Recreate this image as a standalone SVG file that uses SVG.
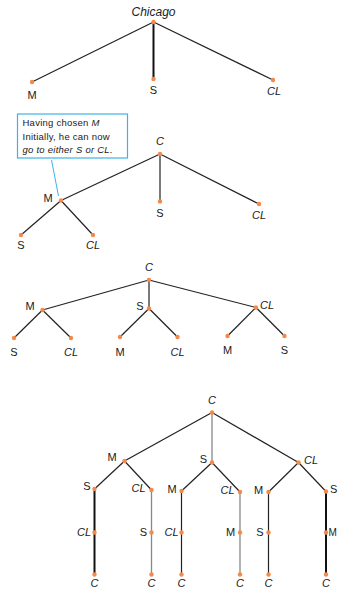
<svg xmlns="http://www.w3.org/2000/svg" width="338" height="591" viewBox="0 0 338 591">
<style>
text{font-family:"Liberation Sans","DejaVu Sans",sans-serif;font-size:11px;fill:#1a1a1a}
.m{text-anchor:middle}
.i{font-style:italic}
.l{stroke:#222;stroke-width:1.2;fill:none}
.t{stroke:#111;stroke-width:2;fill:none}
.g{stroke:#888;stroke-width:1.3;fill:none}
.d{fill:#f5894a}
.co{font-size:9.5px;letter-spacing:0.25px}
</style>
<rect width="338" height="591" fill="#fff"/>
<g id="connectors">
<line class="l" x1="153.5" y1="22" x2="32" y2="82"/>
<line class="t" x1="153.5" y1="22" x2="153.5" y2="79"/>
<line class="l" x1="153.5" y1="22" x2="273" y2="80"/>
<line class="l" x1="160" y1="154" x2="61" y2="200.5"/>
<line class="l" x1="160" y1="154" x2="160" y2="201.5"/>
<line class="l" x1="160" y1="154" x2="259" y2="204"/>
<line class="l" x1="61" y1="200.5" x2="21" y2="235"/>
<line class="l" x1="61" y1="200.5" x2="93" y2="235"/>
<line class="l" x1="149" y1="280" x2="42.5" y2="310"/>
<line class="l" x1="149" y1="280" x2="149" y2="308.5"/>
<line class="l" x1="149" y1="280" x2="256" y2="307.5"/>
<line class="l" x1="42.5" y1="310" x2="14" y2="338"/>
<line class="l" x1="42.5" y1="310" x2="71" y2="338"/>
<line class="l" x1="149" y1="308.5" x2="120" y2="337"/>
<line class="l" x1="149" y1="308.5" x2="177.5" y2="337"/>
<line class="l" x1="256" y1="307.5" x2="227.5" y2="336"/>
<line class="l" x1="256" y1="307.5" x2="284.5" y2="336"/>
<line class="l" x1="212" y1="412.5" x2="124.5" y2="461"/>
<line class="g" x1="212" y1="412.5" x2="212" y2="462.5"/>
<line class="l" x1="212" y1="412.5" x2="298.5" y2="462.5"/>
<line class="l" x1="124.5" y1="461" x2="94.5" y2="489"/>
<line class="l" x1="124.5" y1="461" x2="151.5" y2="490"/>
<line class="l" x1="212" y1="462.5" x2="181.5" y2="491"/>
<line class="l" x1="212" y1="462.5" x2="240" y2="492"/>
<line class="l" x1="298.5" y1="462.5" x2="268.5" y2="492"/>
<line class="l" x1="298.5" y1="462.5" x2="326" y2="491.5"/>
<line class="t" x1="94.5" y1="489" x2="94.5" y2="574.5"/>
<line class="g" x1="151.5" y1="490" x2="151.5" y2="574.5"/>
<line class="l" x1="181.5" y1="491" x2="181.5" y2="574.5"/>
<line class="g" x1="240" y1="492" x2="240" y2="574.5"/>
<line class="l" x1="268.5" y1="492" x2="268.5" y2="574.5"/>
<line class="t" x1="326" y1="491.5" x2="326" y2="574.5"/>
</g>
<g id="callout">
<line x1="51.5" y1="160" x2="58.5" y2="196" stroke="#3ab4e6" stroke-width="1"/>
<rect x="17.5" y="114" width="110" height="44" fill="#fff" stroke="#3ab4e6" stroke-width="1.2"/>
<text class="co" x="22.5" y="126">Having chosen <tspan class="i">M</tspan></text>
<text class="co" x="22.5" y="140">Initially, he can now</text>
<text class="co" x="22.5" y="153"><tspan class="i">go to either S or CL.</tspan></text>
</g>
<g id="tree1">
<g id="t1-root"><circle class="d" cx="153.5" cy="22" r="2.2"/><text class="m i" x="153.5" y="16" style="font-size:12px">Chicago</text></g>
<g id="t1-m"><circle class="d" cx="32" cy="82" r="2.2"/><text class="m" x="32" y="99">M</text></g>
<g id="t1-s"><circle class="d" cx="153.5" cy="79" r="2.2"/><text class="m" x="153.5" y="94">S</text></g>
<g id="t1-cl"><circle class="d" cx="273" cy="80" r="2.2"/><text class="m i" x="274" y="95">CL</text></g>
</g>
<g id="tree2">
<g id="t2-root"><circle class="d" cx="160" cy="154" r="2.2"/><text class="m i" x="160" y="145">C</text></g>
<g id="t2-m"><circle class="d" cx="61" cy="200.5" r="2.2"/><text class="m" x="48" y="202">M</text></g>
<g id="t2-s"><circle class="d" cx="160" cy="201.5" r="2.2"/><text class="m" x="160" y="217">S</text></g>
<g id="t2-cl"><circle class="d" cx="259" cy="204" r="2.2"/><text class="m i" x="259" y="219">CL</text></g>
<g id="t2-ms"><circle class="d" cx="21" cy="235" r="2.2"/><text class="m" x="21" y="249">S</text></g>
<g id="t2-mcl"><circle class="d" cx="93" cy="235" r="2.2"/><text class="m i" x="93" y="249">CL</text></g>
</g>
<g id="tree3">
<g id="t3-root"><circle class="d" cx="149" cy="280" r="2.2"/><text class="m i" x="149" y="271">C</text></g>
<g id="t3-m"><circle class="d" cx="42.5" cy="310" r="2.2"/><text class="m" x="30" y="310">M</text></g>
<g id="t3-s"><circle class="d" cx="149" cy="308.5" r="2.2"/><text class="m" x="140" y="310">S</text></g>
<g id="t3-cl"><circle class="d" cx="256" cy="307.5" r="2.2"/><text class="m i" x="267" y="309">CL</text></g>
<g id="t3-ms"><circle class="d" cx="14" cy="338" r="2.2"/><text class="m" x="14" y="356">S</text></g>
<g id="t3-mcl"><circle class="d" cx="71" cy="338" r="2.2"/><text class="m i" x="71" y="356">CL</text></g>
<g id="t3-sm"><circle class="d" cx="120" cy="337" r="2.2"/><text class="m" x="120" y="356">M</text></g>
<g id="t3-scl"><circle class="d" cx="177.5" cy="337" r="2.2"/><text class="m i" x="177.5" y="356">CL</text></g>
<g id="t3-clm"><circle class="d" cx="227.5" cy="336" r="2.2"/><text class="m" x="227.5" y="354">M</text></g>
<g id="t3-cls"><circle class="d" cx="284.5" cy="336" r="2.2"/><text class="m" x="284.5" y="354">S</text></g>
</g>
<g id="tree4">
<g id="t4-root"><circle class="d" cx="212" cy="412.5" r="2.2"/><text class="m i" x="212" y="404">C</text></g>
<g id="t4-m"><circle class="d" cx="124.5" cy="461" r="2.2"/><text class="m" x="112" y="461">M</text></g>
<g id="t4-s"><circle class="d" cx="212" cy="462.5" r="2.2"/><text class="m" x="203.5" y="463">S</text></g>
<g id="t4-cl"><circle class="d" cx="298.5" cy="462.5" r="2.2"/><text class="m i" x="311" y="464">CL</text></g>
<g id="t4-ms"><circle class="d" cx="94.5" cy="489" r="2.2"/><text class="m" x="87" y="490">S</text></g>
<g id="t4-mcl"><circle class="d" cx="151.5" cy="490" r="2.2"/><text class="m i" x="138.5" y="492">CL</text></g>
<g id="t4-sm"><circle class="d" cx="181.5" cy="491" r="2.2"/><text class="m" x="172" y="493">M</text></g>
<g id="t4-scl"><circle class="d" cx="240" cy="492" r="2.2"/><text class="m i" x="227.5" y="494">CL</text></g>
<g id="t4-clm"><circle class="d" cx="268.5" cy="492" r="2.2"/><text class="m" x="258.5" y="494">M</text></g>
<g id="t4-cls"><circle class="d" cx="326" cy="491.5" r="2.2"/><text x="330" y="493">S</text></g>
<g id="t4-mscl"><circle class="d" cx="94.5" cy="532.5" r="2.2"/><text class="m i" x="84" y="536">CL</text></g>
<g id="t4-mcls"><circle class="d" cx="151.5" cy="532.5" r="2.2"/><text class="m" x="143.5" y="536">S</text></g>
<g id="t4-smcl"><circle class="d" cx="181.5" cy="532.5" r="2.2"/><text class="m i" x="171.5" y="536">CL</text></g>
<g id="t4-sclm"><circle class="d" cx="240" cy="532.5" r="2.2"/><text class="m" x="230.5" y="536">M</text></g>
<g id="t4-clms"><circle class="d" cx="268.5" cy="532.5" r="2.2"/><text class="m" x="260" y="536">S</text></g>
<g id="t4-clsm"><circle class="d" cx="326" cy="532.5" r="2.2"/><text x="328.5" y="536" style="font-size:10px">M</text></g>
<g id="t4-c1"><circle class="d" cx="94.5" cy="574.5" r="2.2"/><text class="m i" x="94.5" y="587">C</text></g>
<g id="t4-c2"><circle class="d" cx="151.5" cy="574.5" r="2.2"/><text class="m i" x="151.5" y="587">C</text></g>
<g id="t4-c3"><circle class="d" cx="181.5" cy="574.5" r="2.2"/><text class="m i" x="181.5" y="587">C</text></g>
<g id="t4-c4"><circle class="d" cx="240" cy="574.5" r="2.2"/><text class="m i" x="240" y="587">C</text></g>
<g id="t4-c5"><circle class="d" cx="268.5" cy="574.5" r="2.2"/><text class="m i" x="268.5" y="587">C</text></g>
<g id="t4-c6"><circle class="d" cx="326" cy="574.5" r="2.2"/><text class="m i" x="326" y="587">C</text></g>
</g>
</svg>
